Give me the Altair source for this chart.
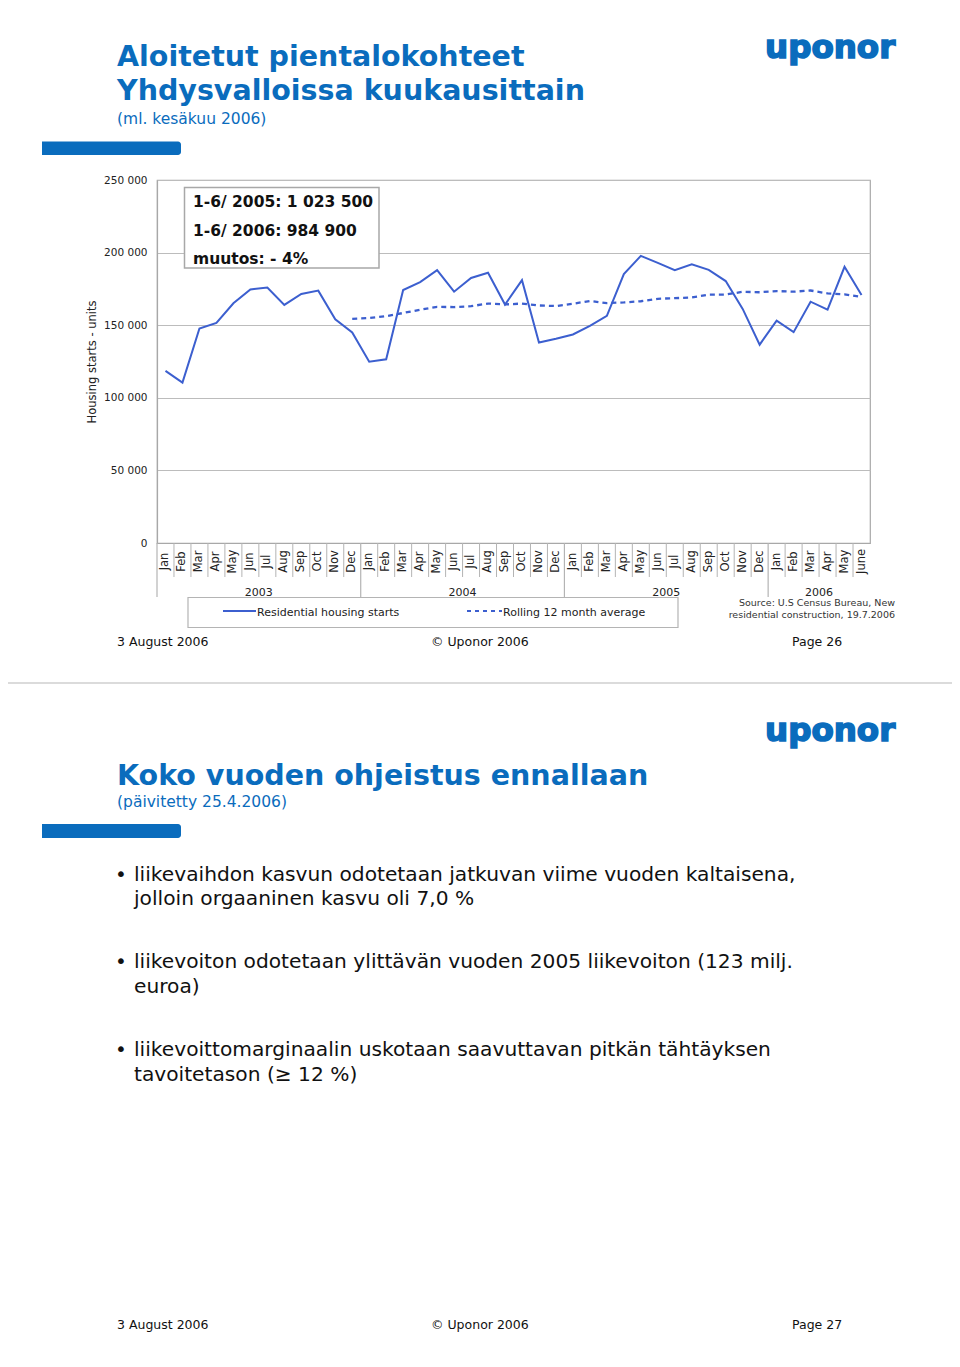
import altair as alt
import pandas as pd

# ---------------- data ----------------
months = ["Jan", "Feb", "Mar", "Apr", "May", "Jun", "Jul", "Aug", "Sep", "Oct", "Nov", "Dec"]
month_labels = months * 3 + ["Jan", "Feb", "Mar", "Apr", "May", "June"]
year_of_month = ["2003"] * 12 + ["2004"] * 12 + ["2005"] * 12 + ["2006"] * 6
keys = [f"{m} {y}" for m, y in zip(month_labels, year_of_month)]

housing_starts = [118500, 110500, 147700, 151600, 165100, 174600, 176000, 164000, 171500, 173800, 154100, 145000,
                  124900, 126500, 174200, 179700, 187900, 173100, 182500, 186100, 164200, 181000, 138100, 140700,
                  143600, 149600, 156400, 185200, 197700, 192900, 187900, 192000, 188100, 180400, 161200, 136600,
                  153200, 145200, 166200, 160700, 190200, 170800]

rolling_keys = keys[11:]
rolling_avg = [154400, 154900, 156200, 158400, 160700, 162600, 162500, 163100, 164900, 164300, 164900, 163600,
               163200, 164800, 166700, 165200, 165700, 166500, 168200, 168600, 169100, 171100, 171100, 173000,
               172700, 173500, 173100, 173900, 171900, 171300, 169400]

series_names = ["Residential housing starts", "Rolling 12 month average"]
year_labels = ["2003", "2004", "2005", "2006"]
year_label_anchor = ["Jul 2003", "Jul 2004", "Jul 2005", "Apr 2006"]
y_ticks = [0, 50000, 100000, 150000, 200000, 250000]

title1 = ["Aloitetut pientalokohteet", "Yhdysvalloissa kuukausittain"]
subtitle1 = "(ml. kesäkuu 2006)"
box_lines = ["1-6/ 2005: 1 023 500", "1-6/ 2006: 984 900", "muutos: - 4%"]
source_lines = ["Source: U.S Census Bureau, New", "residential construction, 19.7.2006"]
footer_left = "3 August 2006"
footer_mid = "© Uponor 2006"
pages = ["Page 26", "Page 27"]
logo = "uponor"
title2 = "Koko vuoden ohjeistus ennallaan"
subtitle2 = "(päivitetty 25.4.2006)"
bullets = [
    ["liikevaihdon kasvun odotetaan jatkuvan viime vuoden kaltaisena,", "jolloin orgaaninen kasvu oli 7,0 %"],
    ["liikevoiton odotetaan ylittävän vuoden 2005 liikevoiton (123 milj.", "euroa)"],
    ["liikevoittomarginaalin uskotaan saavuttavan pitkän tähtäyksen", "tavoitetason (≥ 12 %)"],
]

# ---------------- layout helpers ----------------
OX, OY = 157, 180          # page position of the plot area
W, H = 713, 363
BLUE = "#0a6cbd"
LINE = "#3c5fcf"
GRAY = "#b4b4b4"
FONT = "DejaVu Sans"


def X(px):
    return px - OX


def Y(py):
    return py - OY


def one():
    return pd.DataFrame({"a": [0]})


def text(t, x, y, size, color="#111", weight="normal", align="left", baseline="alphabetic", stroke=0):
    kw = dict(align=align, baseline=baseline, font=FONT, fontSize=size, fontWeight=weight, color=color)
    if stroke:
        kw["stroke"] = color
        kw["strokeWidth"] = stroke
    return alt.Chart(pd.DataFrame({"t": [t]})).mark_text(**kw).encode(
        x=alt.value(X(x)), y=alt.value(Y(y)), text="t:N")


def rect(x1, x2, y1, y2, fill, stroke=None, sw=0, radius=0):
    kw = dict(fill=fill, strokeWidth=sw)
    if stroke:
        kw["stroke"] = stroke
    if radius:
        kw["cornerRadiusTopRight"] = radius
        kw["cornerRadiusBottomRight"] = radius
    return alt.Chart(one()).mark_rect(**kw).encode(
        x=alt.value(X(x1)), x2=alt.value(X(x2)), y=alt.value(Y(y1)), y2=alt.value(Y(y2)))


def hrule(x1, x2, y, color, sw, dash=None):
    kw = dict(color=color, strokeWidth=sw)
    if dash:
        kw["strokeDash"] = dash
    return alt.Chart(one()).mark_rule(**kw).encode(
        x=alt.value(X(x1)), x2=alt.value(X(x2)), y=alt.value(Y(y)))


xscale = alt.Scale(type="band", domain=keys, paddingInner=0, paddingOuter=0)
yscale = alt.Scale(domain=[0, 250000], nice=False)

x_axis = alt.Axis(title=None, labelAngle=270, labelAlign="center", labelBaseline="middle", labelPadding=18,
                  ticks=False, tickSize=0, labelExpr="split(datum.value, ' ')[0]", labelFont=FONT,
                  labelFontSize=11.5, labelColor="#222", domainColor="#a8a8a8", domainWidth=1.2,
                  grid=False, labelOverlap=False)
y_axis = alt.Axis(title="Housing starts - units", values=y_ticks, ticks=False, labelPadding=10,
                  labelExpr="replace(format(datum.value, ','), ',', ' ')", labelFont=FONT,
                  labelFontSize=10.5, labelColor="#222", domainColor="#a8a8a8", domainWidth=1.2,
                  grid=True, gridColor="#bcbcbc", gridWidth=1, titleFont=FONT, titleFontSize=11.5,
                  titleFontWeight="normal", titleColor="#222", titleX=-65, titleY=H / 2,
                  titleAngle=270, titleAlign="center", titleBaseline="middle")


def xenc(field, **kw):
    return alt.X(f"{field}:O", scale=xscale, axis=x_axis, sort=keys, **kw)


def yenc():
    return alt.Y("value:Q", scale=yscale, axis=y_axis)


layers = []

# separator between the two slides
layers.append(hrule(8, 952, 683, "#cfcfcf", 1.5))

# ----- slide 1 header -----
layers.append(text(title1[0], 117, 65.5, 28.5, BLUE, "bold"))
layers.append(text(title1[1], 117, 100, 28.5, BLUE, "bold"))
layers.append(text(subtitle1, 117, 123.5, 15.5, BLUE))
layers.append(rect(42, 181, 141.5, 155, BLUE, radius=3))
layers.append(text(logo, 765, 58, 32.5, BLUE, "bold", stroke=1.6))

# ----- chart -----
df_starts = pd.DataFrame({"key": keys, "value": housing_starts, "series": series_names[0]})
df_roll = pd.DataFrame({"key": rolling_keys, "value": rolling_avg, "series": series_names[1]})

starts_line = alt.Chart(df_starts).mark_line(color=LINE, strokeWidth=2).encode(x=xenc("key"), y=yenc())
roll_line = alt.Chart(df_roll).mark_line(color=LINE, strokeWidth=2.3, strokeDash=[5, 4]).encode(
    x=xenc("key"), y=yenc())
layers += [starts_line, roll_line]

# month separators and year separators below the axis
df_sep_short = pd.DataFrame({"key": [k for k in keys if not k.startswith("Jan")]})
df_sep_long = pd.DataFrame({"key": [k for k in keys if k.startswith("Jan")]})
layers.append(alt.Chart(df_sep_short).mark_rule(color=GRAY, strokeWidth=1).encode(
    x=xenc("key", bandPosition=0), y=alt.value(H), y2=alt.value(Y(577))))
layers.append(alt.Chart(df_sep_long).mark_rule(color=GRAY, strokeWidth=1.2).encode(
    x=xenc("key", bandPosition=0), y=alt.value(H), y2=alt.value(Y(597))))

df_years = pd.DataFrame({"key": year_label_anchor, "year": year_labels})
layers.append(alt.Chart(df_years).mark_text(font=FONT, fontSize=11, color="#222", baseline="alphabetic").encode(
    x=xenc("key", bandPosition=0), y=alt.value(Y(596)), text="year:N"))

# annotation box
layers.append(rect(184.5, 379, 187.5, 268, "white", stroke="#a8a8a8", sw=1.5))
for t, yb in zip(box_lines, [207, 235.7, 264]):
    layers.append(text(t, 193, yb, 15.5, "#111", "bold"))

# legend box
layers.append(rect(188, 678, 597.5, 627.5, "white", stroke=GRAY, sw=1.2))
layers.append(hrule(223, 256, 611, LINE, 2))
layers.append(hrule(467, 502, 611, LINE, 2.2, dash=[4, 4]))
layers.append(text(series_names[0], 257, 615.5, 11, "#222"))
layers.append(text(series_names[1], 503, 615.5, 11, "#222"))

# source
layers.append(text(source_lines[0], 895, 605.5, 9.5, "#333", align="right"))
layers.append(text(source_lines[1], 895, 617.5, 9.5, "#333", align="right"))

# footer slide 1
layers.append(text(footer_left, 117, 646, 12.5))
layers.append(text(footer_mid, 431, 646, 12.5))
layers.append(text(pages[0], 792, 646, 12.5))

# ----- slide 2 -----
layers.append(text(logo, 765, 741, 32.5, BLUE, "bold", stroke=1.6))
layers.append(text(title2, 117, 785, 28.5, BLUE, "bold"))
layers.append(text(subtitle2, 117, 807, 15.5, BLUE))
layers.append(rect(42, 181, 824, 838, BLUE, radius=3))

bullet_baselines = [[881, 905], [968, 993], [1056, 1081]]
for lines, bls in zip(bullets, bullet_baselines):
    layers.append(text("•", 115, bls[0], 20, "#111"))
    for ln, bl in zip(lines, bls):
        layers.append(text(ln, 134, bl, 20.2, "#111"))

layers.append(text(footer_left, 117, 1329, 12.5))
layers.append(text(footer_mid, 431, 1329, 12.5))
layers.append(text(pages[1], 792, 1329, 12.5))

TOTAL_W, TOTAL_H = 944, 1348
chart = alt.layer(*layers).properties(
    width=W, height=H,
    padding={"left": OX - 8, "top": OY - 8, "right": TOTAL_W - (OX - 8) - W,
             "bottom": TOTAL_H - (OY - 8) - H},
    autosize=alt.AutoSizeParams(type="none"),
    background="white",
).configure_view(stroke="#a8a8a8", strokeWidth=1.2)

chart.save("out.html", embed_options={"renderer": "svg", "actions": False})
